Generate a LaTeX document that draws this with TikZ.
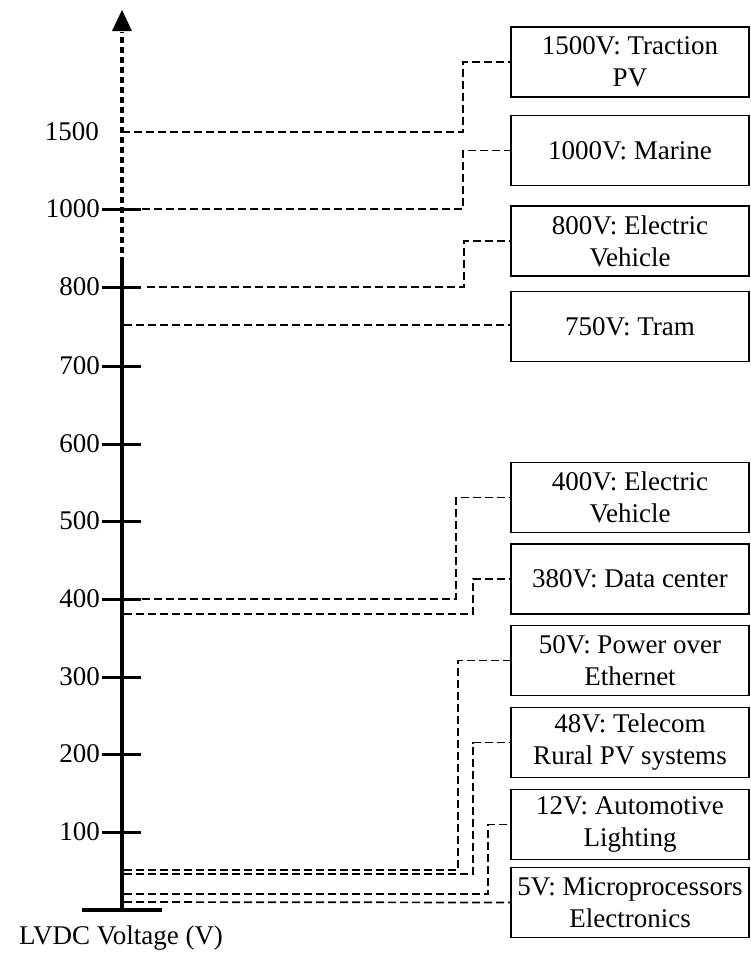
\documentclass[tikz,border=0pt]{standalone}
\usepackage{fontspec}
\setmainfont{Liberation Serif}
\usetikzlibrary{arrows.meta}

\begin{document}
\begin{tikzpicture}[x=1pt, y=-1pt,
      appbox/.style={rectangle, draw, line width=1.6pt, minimum width=238pt,
                     minimum height=70pt, align=center, inner sep=2pt,
                     font=\fontsize{27}{32}\selectfont},
      conn/.style={line width=1.7pt, dash pattern=on 8pt off 4pt},
      tickline/.style={line width=3pt},
      ticklabel/.style={anchor=east, inner sep=0pt, font=\fontsize{27}{32}\selectfont}]
      \useasboundingbox (0,0) rectangle (751,954);
      % axis
      \draw[line width=4pt] (82,910) -- (162,910);
      \draw[line width=4pt] (122,910) -- (122,263);
      \draw[line width=3.5pt, dash pattern=on 6pt off 4pt] (122,263) -- (122,32);
      \fill (122,10) -- (112,31) -- (132,31) -- cycle;
      % ticks and labels
      \foreach \v/\y in {100/832, 200/754, 300/677, 400/599, 500/521,
                         600/444, 700/366, 800/287, 1000/209} {
        \draw[tickline] (102,\y) -- (141,\y);
        \node[ticklabel] (l\v) at (100,\y) {\v};
      }
      \node[ticklabel] (l1500) at (99,132) {1500};
      \node[font=\fontsize{27}{32}\selectfont] (axislabel) at (121,938) {LVDC Voltage (V)};
      % start points on the axis
      \coordinate (v1500) at (122,132);
      \coordinate (v1000) at (142,209);
      \coordinate (v800) at (147,287);
      \coordinate (v750) at (124,325);
      \coordinate (v400) at (142,599);
      \coordinate (v380) at (124,614);
      \coordinate (v50) at (124,870);
      \coordinate (v48) at (124,874);
      \coordinate (v12) at (124,894);
      \coordinate (v5) at (124,902);
      % application boxes
      \node[appbox] (traction) at (630,62) {1500V: Traction\\PV};
      \node[appbox] (marine) at (630,150.5) {1000V: Marine};
      \node[appbox] (ev800) at (630,241) {800V: Electric\\Vehicle};
      \node[appbox] (tram) at (630,326.5) {750V: Tram};
      \node[appbox] (ev400) at (630,497.5) {400V: Electric\\Vehicle};
      \node[appbox] (datacenter) at (630,579) {380V: Data center};
      \node[appbox] (poe) at (630,660.5) {50V: Power over\\Ethernet};
      \node[appbox] (telecom) at (630,742.5) {48V: Telecom\\Rural PV systems};
      \node[appbox] (automotive) at (630,824.5) {12V: Automotive\\Lighting};
      \node[appbox] (micro) at (630,902.5) {5V: Microprocessors\\Electronics};
      % connectors
      \draw[conn] (v1500) -- (463,132) |- (traction.west);
      \draw[conn] (v1000) -- (463,209) |- (marine.west);
      \draw[conn] (v800) -- (464,287) |- (ev800.west);
      \draw[conn] (v750) -- (tram.west |- v750);
      \draw[conn] (v400) -- (456,599) |- (ev400.west);
      \draw[conn] (v380) -- (473,614) |- (datacenter.west);
      \draw[conn] (v50) -- (458,870) |- (poe.west);
      \draw[conn] (v48) -- (473,874) |- (telecom.west);
      \draw[conn] (v12) -- (488,894) |- (automotive.west);
      \draw[conn] (v5) -- (micro.west);
    \end{tikzpicture}
\end{document}
